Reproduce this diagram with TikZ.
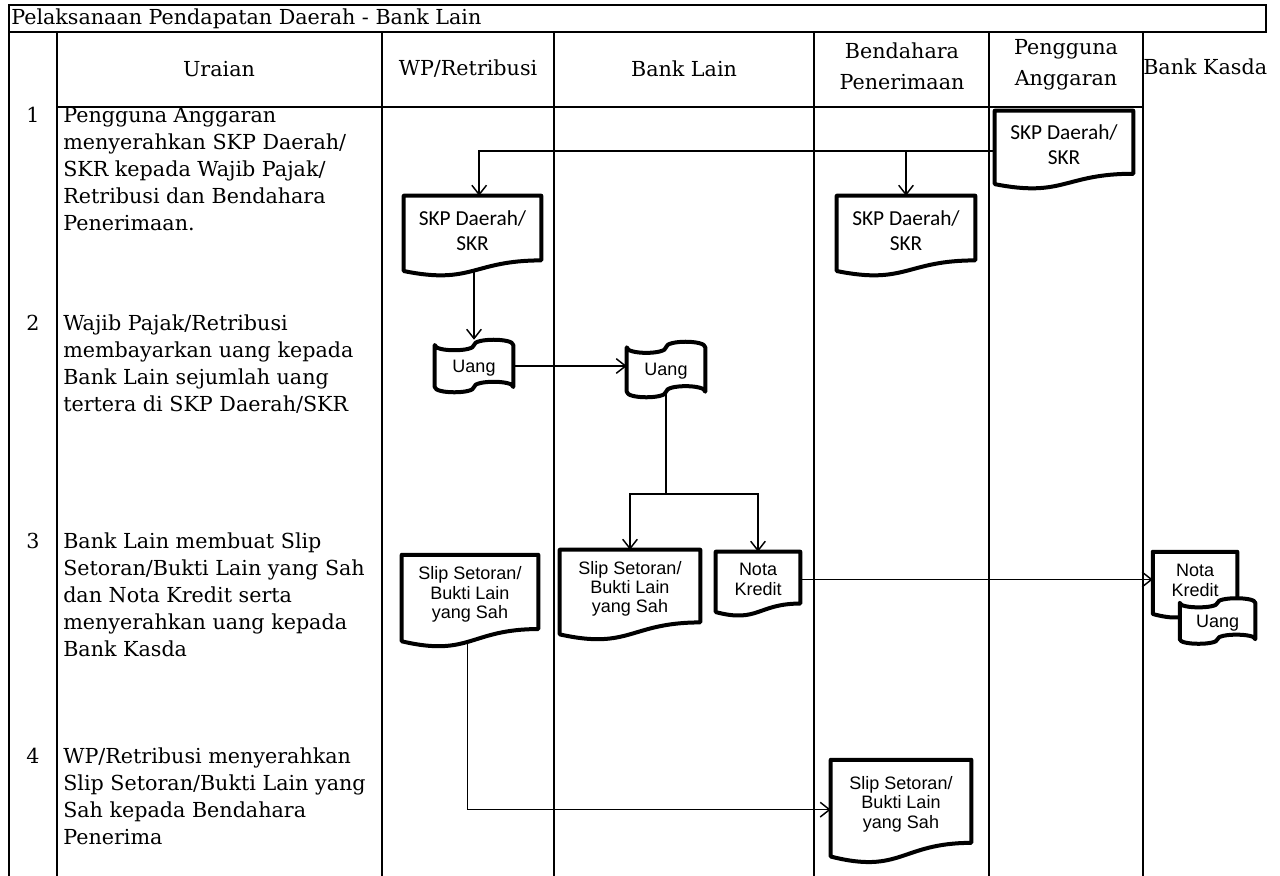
\documentclass[tikz,border=0pt]{standalone}
\usepackage{fontspec}
\setmainfont{DejaVu Serif}
\newfontfamily\calibfont{Carlito}
\newfontfamily\arialfont{Liberation Sans}
\usetikzlibrary{calc,arrows.meta,backgrounds}
\tikzset{
  grid/.style={line width=1.5pt, line cap=rect},
  conn/.style={line width=1.1pt},
  arr/.style={conn, -{Straight Barb[length=7pt, width=11pt]}},
  shapeline/.style={draw=black, line width=3pt, fill=white, line join=round},
  tabletext/.style={inner sep=0pt, font=\fontsize{15.5pt}{20.2pt}\selectfont},
  bodytext/.style={tabletext, align=left, anchor=north west},
  calibtext/.style={font={\calibfont\fontsize{16pt}{18.75pt}\selectfont}},
  arialtext/.style={font={\arialfont\fontsize{13.5pt}{14.5pt}\selectfont}},
  docbox/.style 2 args={rectangle, inner sep=0pt, align=center,
    minimum width={#1*0.75pt}, minimum height={0.86*#2*0.75pt},
    append after command={\pgfextra{\let\thisnode\tikzlastnode
      \pgfinterruptpath
      \draw[shapeline] (\thisnode.north west) -- (\thisnode.north east)
        -- ($(\thisnode.north east)!0.9326!(\thisnode.south east)$)
        .. controls ($(\thisnode.north)!0.9326!(\thisnode.south)$)
        and ($(\thisnode.north)!1.2878!(\thisnode.south)$)
        .. ($(\thisnode.north west)!1.0860!(\thisnode.south west)$) -- cycle;
      \endpgfinterruptpath}}},
  tapebox/.style 2 args={rectangle, inner sep=0pt, text height=0.95em, text depth=0pt,
    minimum width={#1*0.75pt}, minimum height={#2*0.75pt},
    append after command={\pgfextra{\let\thisnode\tikzlastnode
      \pgfinterruptpath
      \draw[shapeline] ($(\thisnode.north west)!0.1!(\thisnode.south west)$)
        .. controls ($(\thisnode.north west)!0.2333!(\thisnode.south west)$)
        and ($(\thisnode.north)!0.2333!(\thisnode.south)$)
        .. ($(\thisnode.north)!0.1!(\thisnode.south)$)
        .. controls ($(\thisnode.north)!-0.0333!(\thisnode.south)$)
        and ($(\thisnode.north east)!-0.0333!(\thisnode.south east)$)
        .. ($(\thisnode.north east)!0.1!(\thisnode.south east)$)
        -- ($(\thisnode.north east)!0.9!(\thisnode.south east)$)
        .. controls ($(\thisnode.north east)!0.7667!(\thisnode.south east)$)
        and ($(\thisnode.north)!0.7667!(\thisnode.south)$)
        .. ($(\thisnode.north)!0.9!(\thisnode.south)$)
        .. controls ($(\thisnode.north)!1.0333!(\thisnode.south)$)
        and ($(\thisnode.north west)!1.0333!(\thisnode.south west)$)
        .. ($(\thisnode.north west)!0.9!(\thisnode.south west)$) -- cycle;
      \endpgfinterruptpath}}},
}
\begin{document}
\begin{tikzpicture}[x=0.75pt, y=-0.75pt]
\useasboundingbox (0,0) rectangle (1280,875);

% ---------- table frame ----------
\draw[grid] (9,875) -- (9,5) -- (1266,5) -- (1266,32);
\draw[grid] (9,32) -- (1266,32);
\draw[grid] (57,107) -- (1143,107);
\foreach \xx in {57,382,554,814,989,1143}
  \draw[grid] (\xx,32) -- (\xx,875);

% ---------- title and headers ----------
\node[tabletext, anchor=west] (title) at (11,19) {Pelaksanaan Pendapatan Daerah - Bank Lain};
\node[tabletext] (hUraian) at (219,69) {Uraian};
\node[tabletext] (hWP) at (468,69) {WP/Retribusi};
\node[tabletext] (hBL) at (684,69) {Bank Lain};
\node[tabletext, align=center, font=\fontsize{15.5pt}{23pt}\selectfont] (hBP) at (902,66) {Bendahara\\Penerimaan};
\node[tabletext, align=center, font=\fontsize{15.5pt}{23pt}\selectfont] (hPA) at (1066,65) {Pengguna\\Anggaran};
\node[tabletext, anchor=west] (hBK) at (1143,67) {Bank Kasda};

% ---------- row numbers and descriptions ----------
\node[tabletext] (n1) at (33,115) {1};
\node[tabletext] (n2) at (33,323) {2};
\node[tabletext] (n3) at (33,541) {3};
\node[tabletext] (n4) at (33,756) {4};
\node[bodytext] (t1) at (63,107) {Pengguna Anggaran\\menyerahkan SKP Daerah/\\SKR kepada Wajib Pajak/\\Retribusi dan Bendahara\\Penerimaan.};
\node[bodytext] (t2) at (63,314.5) {Wajib Pajak/Retribusi\\membayarkan uang kepada\\Bank Lain sejumlah uang\\tertera di SKP Daerah/SKR};
\node[bodytext] (t3) at (63,532.5) {Bank Lain membuat Slip\\Setoran/Bukti Lain yang Sah\\dan Nota Kredit serta\\menyerahkan uang kepada\\Bank Kasda};
\node[bodytext] (t4) at (63,747.5) {WP/Retribusi menyerahkan\\Slip Setoran/Bukti Lain yang\\Sah kepada Bendahara\\Penerima};

% ---------- flow shapes ----------
\node[docbox={138}{78}, calibtext] (PAdoc) at (1064,144.5) {SKP Daerah/\\SKR};
\node[docbox={137}{80}, calibtext] (WPdoc) at (472.5,230.4) {SKP Daerah/\\SKR};
\node[docbox={138}{80}, calibtext] (BPdoc) at (906,230.4) {SKP Daerah/\\SKR};
\node[tapebox={78}{52}, arialtext] (uang1) at (474,366) {Uang};
\node[tapebox={78}{55}, arialtext] (uang2) at (666,369.5) {Uang};
\node[docbox={136}{92}, arialtext] (slip1) at (470,594.6) {Slip Setoran/\\Bukti Lain\\yang Sah};
\node[docbox={140}{90}, arialtext] (slip2) at (630,588.7) {Slip Setoran/\\Bukti Lain\\yang Sah};
\node[docbox={84}{64}, arialtext] (nota) at (758,579.5) {Nota\\Kredit};
\node[docbox={84}{66}, arialtext] (knota) at (1195,580.4) {Nota\\Kredit};
\node[tapebox={75}{45}, arialtext] (kuang) at (1217.5,621) {Uang};
\node[docbox={140}{103}, arialtext] (slip3) at (901,804.3) {Slip Setoran/\\Bukti Lain\\yang Sah};

% ---------- connectors ----------
\begin{scope}[on background layer]
  \coordinate (hline) at ([yshift=-5pt]PAdoc.west);
  \draw[arr] (hline) -| ([xshift=5pt]WPdoc.north);
  \draw[arr] (BPdoc.north |- hline) -- (BPdoc.north);
  \draw[arr] (uang1.north |- WPdoc.center) -- (uang1.north);
  \draw[arr] (uang1.center) -- (uang1.center -| uang2.west);
  \path (uang2.center) ++(0,124.5) coordinate (split);
  \draw[conn] (uang2.center) -- (split);
  \draw[arr] (split) -| (slip2.north);
  \draw[arr] (split) -| (nota.north);
  \draw[arr] (nota.center) -- (nota.center -| knota.west);
  \draw[arr] ([xshift=-2pt]slip1.center) |- ([yshift=-4pt]slip3.west);
\end{scope}
\end{tikzpicture}
\end{document}
